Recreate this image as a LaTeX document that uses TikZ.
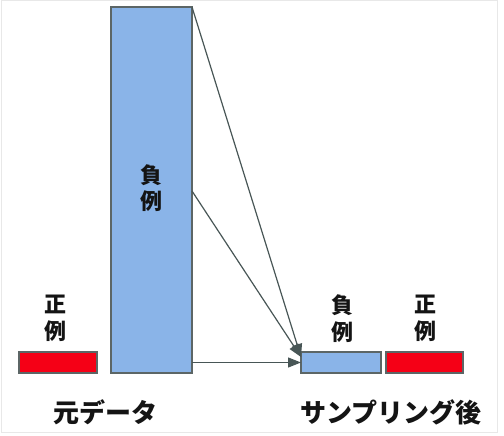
\documentclass[tikz,border=0pt]{standalone}
\usepackage{fontspec}
\newfontfamily\jp{Noto Sans CJK JP}
\usetikzlibrary{arrows.meta}
\definecolor{negblue}{RGB}{138,180,232}
\definecolor{posred}{RGB}{245,0,22}
\definecolor{edgegray}{RGB}{92,102,102}
\definecolor{arrowgray}{RGB}{72,86,86}
\definecolor{txt}{RGB}{20,20,20}
\tikzset{
  bar/.style={draw=edgegray, line width=1.5pt, inner sep=0pt, outer sep=0pt},
  negbar/.style={bar, fill=negblue},
  posbar/.style={bar, fill=posred},
  small/.style={font=\jp\bfseries\fontsize{22}{26.5}\selectfont, text=txt, align=center, inner sep=0pt},
  big/.style={font=\jp\bfseries\fontsize{26}{30}\selectfont, text=txt, inner sep=0pt},
  arr/.style={draw=arrowgray, line width=1.2pt, -{Triangle[length=13pt,width=10pt]}}
}
\begin{document}
\begin{tikzpicture}[x=1pt,y=-1pt]
\useasboundingbox (0,0) rectangle (504,436);
\draw[draw=gray!18, line width=1pt] (1,1) rectangle (497,432);
% bars
\node[negbar, minimum width=81pt, minimum height=366pt] (negbig) at (151.5,190) {};
\node[posbar, minimum width=78pt, minimum height=21pt] (posleft) at (58,362.5) {};
\node[negbar, minimum width=80pt, minimum height=21pt] (negsmall) at (341,362.5) {};
\node[posbar, minimum width=77pt, minimum height=21pt] (posright) at (424.5,362.5) {};
% labels
\node[small] (lblneg) at (151.5,188) {負\\例};
\node[small] (lblposl) at (56,318.5) {正\\例};
\node[small] (lblnegs) at (342,318.5) {負\\例};
\node[small] (lblposr) at (425,318.5) {正\\例};
\node[big] (orig) at (105,412) {元データ};
\node[big] (after) at (391,412) {サンプリング後};
% arrows
\coordinate (tip) at (301,357);
\coordinate (midstart) at (192,191);
\draw[arr] (negbig.north east) -- (tip);
\draw[arr] (midstart) -- (tip);
\draw[arr] (negbig.east |- negsmall.west) -- (negsmall.west);
\end{tikzpicture}
\end{document}
